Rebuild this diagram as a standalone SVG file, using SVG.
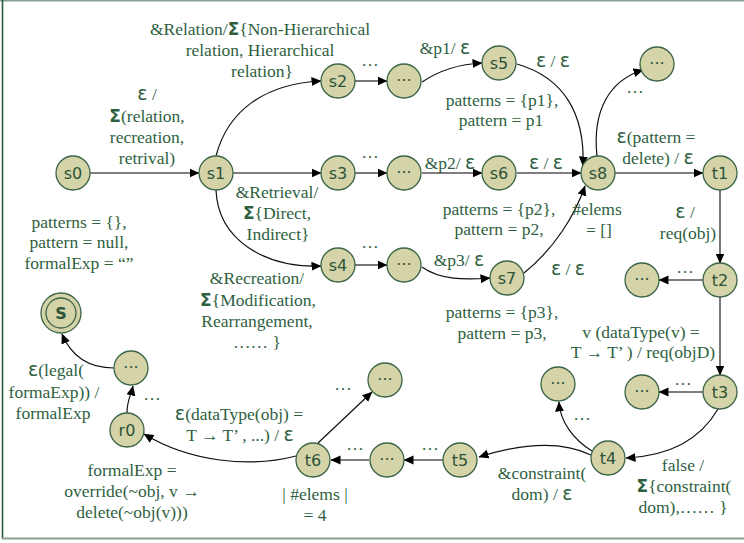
<svg xmlns="http://www.w3.org/2000/svg" width="744" height="543" viewBox="0 0 744 543">
<defs>
<marker id="ah" viewBox="0 0 10 10" refX="9.5" refY="5" markerWidth="10" markerHeight="10" markerUnits="userSpaceOnUse" orient="auto">
<path d="M0,0.5 L10,5 L0,9.5 z" fill="#000"/>
</marker>
<style>
.n circle{fill:#d5d4a9;stroke:#3b6447;stroke-width:1.3}
.n text{font-family:"DejaVu Sans","Liberation Sans",sans-serif;font-size:16px;fill:#2c5238;text-anchor:middle;dominant-baseline:central}
.st{fill:none;stroke:#555;stroke-width:1.6;marker-end:url(#ah)}
.cv{fill:none;stroke:#111;stroke-width:1.2;marker-end:url(#ah)}
.l{font-family:"Liberation Serif","Times New Roman",Times,serif;font-size:17.5px;fill:#2f5f3f;text-anchor:middle}
.g{font-family:"DejaVu Sans","Liberation Sans",sans-serif;font-size:19px}
.sg{font-family:"DejaVu Sans","Liberation Sans",sans-serif;font-size:17px;font-weight:bold}
</style>
</defs>
<rect x="0" y="0" width="744" height="543" fill="#fff"/>
<line x1="0" y1="0.8" x2="744" y2="0.8" stroke="#8aa192" stroke-width="1.6"/>
<line x1="2.5" y1="0" x2="2.5" y2="539" stroke="#2a5a3a" stroke-width="1.6"/>
<line x1="2" y1="538.5" x2="744" y2="538.5" stroke="#8aa192" stroke-width="2"/>

<g id="connectors">
<line class="st" x1="90" y1="173" x2="199" y2="173"/>
<path class="cv" d="M216,156 C228,110 265,84 321,81"/>
<line class="st" x1="233" y1="173" x2="321" y2="173"/>
<path class="cv" d="M216,190 C218,240 265,268 321,266"/>
<line class="st" x1="355" y1="81" x2="387" y2="81"/>
<path class="cv" d="M422,82 C440,70 460,64 482,63"/>
<line class="st" x1="355" y1="173" x2="387" y2="173"/>
<line class="st" x1="422" y1="173" x2="482" y2="173"/>
<line class="st" x1="355" y1="265" x2="387" y2="265"/>
<path class="cv" d="M422,267 C440,280 465,280 490,278"/>
<path class="cv" d="M517,64 C565,78 585,115 583,166"/>
<line class="st" x1="517" y1="173" x2="581" y2="173"/>
<path class="cv" d="M524,273 C555,248 575,215 585,186"/>
<path class="cv" d="M597,156 C592,110 610,80 643,70"/>
<line class="st" x1="615" y1="173" x2="703" y2="173"/>
<line class="st" x1="720" y1="190" x2="720" y2="263"/>
<line class="st" x1="703" y1="280" x2="659" y2="280"/>
<line class="st" x1="720" y1="297" x2="720" y2="375"/>
<line class="st" x1="703" y1="392" x2="659" y2="392"/>
<path class="cv" d="M718,409 C700,440 670,456 626,458"/>
<path class="cv" d="M592,451 C574,440 560,422 559,402"/>
<path class="cv" d="M591,455 C560,440 520,444 479,457"/>
<line class="st" x1="443" y1="460" x2="404" y2="460"/>
<line class="st" x1="369" y1="460" x2="331" y2="460"/>
<line class="cv" x1="318" y1="443" x2="372" y2="392"/>
<path class="cv" d="M296,456 C250,468 190,462 144,434"/>
<path class="cv" d="M127,413 C127,400 131,395 133,386"/>
<path class="cv" d="M114,368 C90,368 72,358 62,334"/>
</g>

<g id="s0" class="n"><circle cx="73" cy="173" r="17"/><text x="73" y="173">s0</text></g>
<g id="s1" class="n"><circle cx="216" cy="173" r="17"/><text x="216" y="173">s1</text></g>
<g id="s2" class="n"><circle cx="338" cy="81" r="17"/><text x="338" y="81">s2</text></g>
<g id="s2d" class="n"><circle cx="404" cy="81" r="17"/><text x="404" y="80">···</text></g>
<g id="s5" class="n"><circle cx="499" cy="63" r="17"/><text x="499" y="63">s5</text></g>
<g id="s3" class="n"><circle cx="338" cy="173" r="17"/><text x="338" y="173">s3</text></g>
<g id="s3d" class="n"><circle cx="404" cy="173" r="17"/><text x="404" y="172">···</text></g>
<g id="s6" class="n"><circle cx="499" cy="173" r="17"/><text x="499" y="173">s6</text></g>
<g id="s4" class="n"><circle cx="338" cy="265" r="17"/><text x="338" y="265">s4</text></g>
<g id="s4d" class="n"><circle cx="404" cy="265" r="17"/><text x="404" y="264">···</text></g>
<g id="s7" class="n"><circle cx="507" cy="278" r="17"/><text x="507" y="278">s7</text></g>
<g id="s8" class="n"><circle cx="598" cy="173" r="17"/><text x="598" y="173">s8</text></g>
<g id="s8d" class="n"><circle cx="657" cy="64" r="17"/><text x="657" y="63">···</text></g>
<g id="t1" class="n"><circle cx="720" cy="173" r="17"/><text x="720" y="173">t1</text></g>
<g id="t2" class="n"><circle cx="720" cy="280" r="17"/><text x="720" y="280">t2</text></g>
<g id="t2d" class="n"><circle cx="642" cy="280" r="17"/><text x="642" y="279">···</text></g>
<g id="t3" class="n"><circle cx="720" cy="392" r="17"/><text x="720" y="392">t3</text></g>
<g id="t3d" class="n"><circle cx="642" cy="392" r="17"/><text x="642" y="391">···</text></g>
<g id="t4" class="n"><circle cx="608" cy="458" r="17"/><text x="608" y="458">t4</text></g>
<g id="t4d" class="n"><circle cx="558" cy="384" r="17"/><text x="558" y="383">···</text></g>
<g id="t5" class="n"><circle cx="460" cy="460" r="17"/><text x="460" y="460">t5</text></g>
<g id="t5d" class="n"><circle cx="387" cy="460" r="17"/><text x="387" y="459">···</text></g>
<g id="t6" class="n"><circle cx="313" cy="460" r="17"/><text x="313" y="460">t6</text></g>
<g id="t6d" class="n"><circle cx="385" cy="380" r="17"/><text x="385" y="379">···</text></g>
<g id="r0" class="n"><circle cx="127" cy="430" r="17"/><text x="127" y="430">r0</text></g>
<g id="r0d" class="n"><circle cx="131" cy="368" r="17"/><text x="131" y="367">···</text></g>
<g id="S" class="n"><circle cx="61" cy="313" r="20"/><circle cx="61" cy="313" r="15"/><text x="61" y="313" font-weight="bold">S</text></g>

<g id="labels">
<text class="l" x="260" y="35">&amp;Relation/<tspan class="sg">Σ</tspan>{Non-Hierarchical</text>
<text class="l" x="260" y="56">relation, Hierarchical</text>
<text class="l" x="262" y="77">relation}</text>
<text class="l" x="147" y="100"><tspan class="g">ε</tspan> /</text>
<text class="l" x="147" y="122"><tspan class="sg">Σ</tspan>(relation,</text>
<text class="l" x="147" y="143">recreation,</text>
<text class="l" x="147" y="164">retrival)</text>
<text class="l" x="79" y="228">patterns = {},</text>
<text class="l" x="79" y="248">pattern = null,</text>
<text class="l" x="79" y="269">formalExp = “”</text>
<text class="l" x="370" y="66">…</text>
<text class="l" x="445" y="54">&amp;p1/ <tspan class="g">ε</tspan></text>
<text class="l" x="553" y="67"><tspan class="g">ε</tspan> / <tspan class="g">ε</tspan></text>
<text class="l" x="502" y="106">patterns = {p1},</text>
<text class="l" x="501" y="126">pattern = p1</text>
<text class="l" x="635" y="93">…</text>
<text class="l" x="656" y="143"><tspan class="g">ε</tspan>(pattern =</text>
<text class="l" x="658" y="164">delete) / <tspan class="g">ε</tspan></text>
<text class="l" x="370" y="158">…</text>
<text class="l" x="450" y="169">&amp;p2/ <tspan class="g">ε</tspan></text>
<text class="l" x="546" y="169"><tspan class="g">ε</tspan> / <tspan class="g">ε</tspan></text>
<text class="l" x="277" y="198">&amp;Retrieval/</text>
<text class="l" x="277" y="219"><tspan class="sg">Σ</tspan>{Direct,</text>
<text class="l" x="278" y="240">Indirect}</text>
<text class="l" x="499" y="215">patterns = {p2},</text>
<text class="l" x="499" y="235">pattern = p2,</text>
<text class="l" x="597" y="215">#elems</text>
<text class="l" x="599" y="236">= []</text>
<text class="l" x="685" y="218"><tspan class="g">ε</tspan> /</text>
<text class="l" x="688" y="239">req(obj)</text>
<text class="l" x="370" y="248">…</text>
<text class="l" x="459" y="266">&amp;p3/ <tspan class="g">ε</tspan></text>
<text class="l" x="568" y="275"><tspan class="g">ε</tspan> / <tspan class="g">ε</tspan></text>
<text class="l" x="685" y="273">…</text>
<text class="l" x="257" y="284">&amp;Recreation/</text>
<text class="l" x="258" y="306"><tspan class="sg">Σ</tspan>{Modification,</text>
<text class="l" x="257" y="327">Rearrangement,</text>
<text class="l" x="257" y="348">…… }</text>
<text class="l" x="502" y="318">patterns = {p3},</text>
<text class="l" x="502" y="339">pattern = p3,</text>
<text class="l" x="641" y="338">v (dataType(v) =</text>
<text class="l" x="643" y="358">T  → T’ ) / req(objD)</text>
<text class="l" x="683" y="385">…</text>
<text class="l" x="582" y="420">…</text>
<text class="l" x="683" y="471">false /</text>
<text class="l" x="684" y="492"><tspan class="sg">Σ</tspan>{constraint(</text>
<text class="l" x="683" y="513">dom),…… }</text>
<text class="l" x="542" y="479">&amp;constraint(</text>
<text class="l" x="542" y="500">dom) / <tspan class="g">ε</tspan></text>
<text class="l" x="430" y="450">…</text>
<text class="l" x="355" y="450">…</text>
<text class="l" x="343" y="390">…</text>
<text class="l" x="239" y="420"><tspan class="g">ε</tspan>(dataType(obj) =</text>
<text class="l" x="240" y="441">T  → T’ , ...) / <tspan class="g">ε</tspan></text>
<text class="l" x="315" y="500">| #elems |</text>
<text class="l" x="315" y="521">= 4</text>
<text class="l" x="56" y="376"><tspan class="g">ε</tspan>(legal(</text>
<text class="l" x="54" y="398">formaExp)) /</text>
<text class="l" x="53" y="419">formalExp</text>
<text class="l" x="152" y="400">…</text>
<text class="l" x="132" y="476">formalExp =</text>
<text class="l" x="132" y="497">override(~obj, v →</text>
<text class="l" x="132" y="518">delete(~obj(v)))</text>
</g>
</svg>
